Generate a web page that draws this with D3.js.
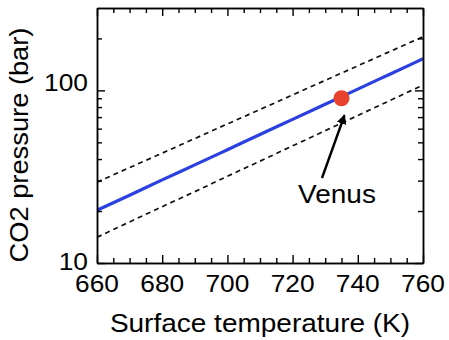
<!DOCTYPE html>
<html><head><meta charset="utf-8">
<script src="https://cdn.jsdelivr.net/npm/d3@7"></script>
<style>html,body{margin:0;padding:0;background:#fff;}svg{display:block;font-family:"Liberation Sans",Arial,sans-serif;}</style>
</head><body>
<script>
const temps = [660, 670, 680, 690, 700, 710, 720, 730, 740, 750, 760];
const pressureMid   = [20.2, 24.7, 30.3, 37.0, 45.3, 55.5, 67.9, 83.1, 101.7, 124.5, 152.4];
const pressureUpper = [29.4, 35.7, 43.3, 52.6, 63.9, 77.5, 94.1, 114.3, 138.7, 168.4, 204.5];
const pressureLower = [14.1, 17.3, 21.2, 25.9, 31.8, 38.9, 47.7, 58.4, 71.5, 87.6, 107.3];
const venus = {t: 735, p: 90, label: "Venus"};
const xTicks = [660, 680, 700, 720, 740, 760];
const yTicks = [10, 100];
const xLabel = "Surface temperature (K)";
const yLabel = "CO2 pressure (bar)";

const W = 449, H = 340;
const svg = d3.select("body").append("svg").attr("width", W).attr("height", H);
const x = d3.scaleLinear().domain([660, 760]).range([97, 423]);
const y = d3.scaleLog().domain([10, 300]).range([263, 8]);
const defs = svg.append("defs");
defs.append("clipPath").attr("id","c").append("rect")
  .attr("x",97).attr("y",8).attr("width",326).attr("height",255);

const line = d3.line().x((d,i)=>x(temps[i])).y(d=>y(d)).curve(d3.curveMonotoneX);
const data = svg.append("g").attr("clip-path","url(#c)");
data.append("path").datum(pressureUpper).attr("d", line).attr("fill","none")
  .attr("stroke","#111").attr("stroke-width",1.7).attr("stroke-dasharray","5,4");
data.append("path").datum(pressureLower).attr("d", line).attr("fill","none")
  .attr("stroke","#111").attr("stroke-width",1.7).attr("stroke-dasharray","5,4");
data.append("path").datum(pressureMid).attr("d", line).attr("fill","none")
  .attr("stroke","#2a40e0").attr("stroke-width",3.2);

// axes with inward ticks, mirrored on top/right
const xMinor = d3.range(660, 761, 5).filter(v=>!xTicks.includes(v));
const yMinor = [20,30,40,50,60,70,80,90,200];
const mk = (fn, vals, len) => fn.tickValues(vals).tickSizeInner(-len).tickSizeOuter(0).tickFormat("");
[[mk(d3.axisBottom(x), xTicks, 8),"translate(0,263)"],[mk(d3.axisBottom(x), xMinor, 5),"translate(0,263)"],
 [mk(d3.axisTop(x), xTicks, 8),"translate(0,8)"],[mk(d3.axisTop(x), xMinor, 5),"translate(0,8)"],
 [mk(d3.axisLeft(y), yTicks, 8),"translate(97,0)"],[mk(d3.axisLeft(y), yMinor, 5),"translate(97,0)"],
 [mk(d3.axisRight(y), yTicks, 8),"translate(423,0)"],[mk(d3.axisRight(y), yMinor, 5),"translate(423,0)"]]
 .forEach(([a,t])=>{
   const gg = svg.append("g").attr("transform",t).call(a);
   gg.selectAll("line").attr("stroke","#000").attr("stroke-width",1.4);
   gg.select(".domain").attr("stroke","#000").attr("stroke-width",1.5);
 });

const sx = 1.12;
svg.append("g").selectAll("text").data(xTicks).join("text")
  .attr("transform", d=>`translate(${x(d)},292) scale(${sx},1)`)
  .attr("text-anchor","middle").attr("font-size",23.5).attr("fill","#000").text(d=>d);
svg.append("g").selectAll("text").data(yTicks).join("text")
  .attr("transform", d=>`translate(88,${d===10?270:91}) scale(${sx},1)`)
  .attr("text-anchor","end").attr("font-size",23.5).attr("fill","#000").text(d=>d);
svg.append("text").attr("transform",`translate(260,332) scale(${sx},1)`)
  .attr("text-anchor","middle").attr("font-size",25).attr("fill","#000").text(xLabel);
svg.append("text").attr("transform",`translate(28,145) rotate(-90) scale(1.07,1.04)`)
  .attr("text-anchor","middle").attr("font-size",25.5).attr("fill","#000").text(yLabel);

// Venus point & arrow
defs.append("marker").attr("id","ah").attr("viewBox","0 0 10 10").attr("refX",9).attr("refY",5)
  .attr("markerWidth",4).attr("markerHeight",4).attr("orient","auto")
  .append("path").attr("d","M0,0 L10,5 L0,10 z").attr("fill","#000");
svg.append("line").attr("x1",322).attr("y1",178).attr("x2",x(venus.t)+3).attr("y2",y(venus.p)+17)
  .attr("stroke","#000").attr("stroke-width",2.4).attr("marker-end","url(#ah)");
svg.append("circle").attr("cx",x(venus.t)).attr("cy",y(venus.p)).attr("r",8)
  .attr("fill","#e8432f");
svg.append("text").attr("transform",`translate(337,203) scale(${sx},1)`)
  .attr("text-anchor","middle").attr("font-size",25).attr("fill","#000").text(venus.label);
</script>
</body></html>
